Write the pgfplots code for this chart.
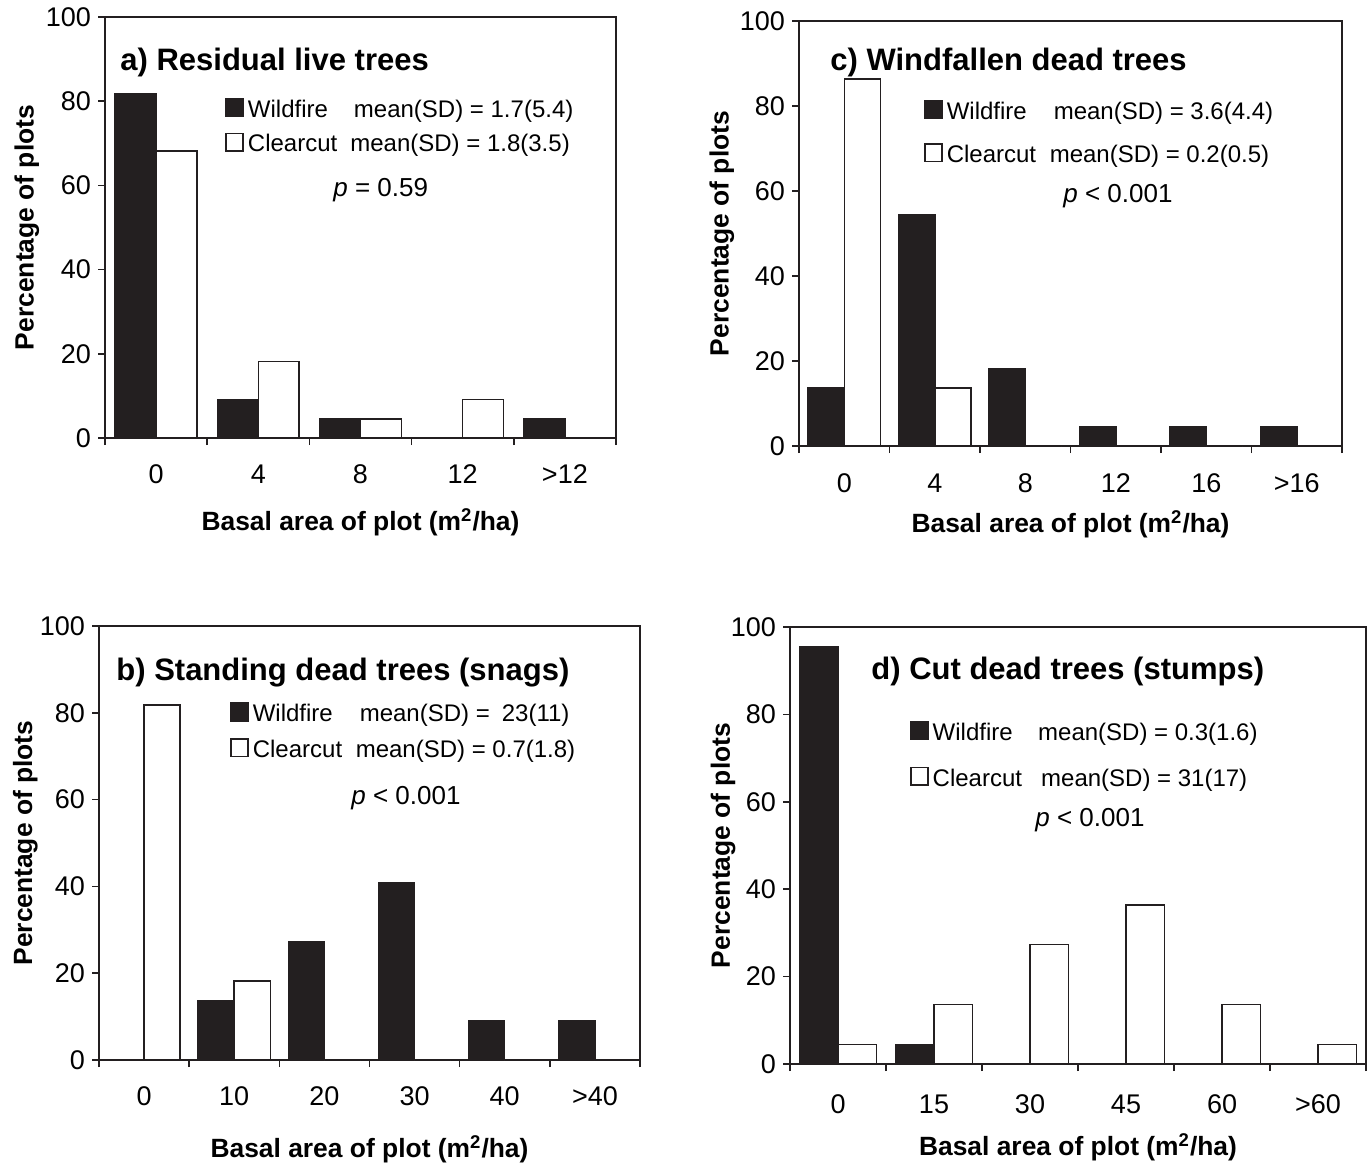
\documentclass[border=0pt]{standalone}
\usepackage{fontspec}
\setmainfont{Liberation Sans}
\usepackage{pgfplots}
\pgfplotsset{compat=1.18}

\definecolor{ink}{RGB}{35,31,32}

\pgfplotsset{
  panel/.style={
    scale only axis,
    ybar, bar width=0.4,
    ymin=0, ymax=100, ytick={0,20,...,100},
    axis line style={ink, line width=0.8pt},
    tick pos=left, tick align=outside,
    major tick length=3.5pt, minor tick length=3.5pt,
    every tick/.style={ink, line width=0.8pt},
    major x tick style={draw=none},
    tick label style={font=\fontsize{13.5}{16}\selectfont},
    /pgf/number format/assume math mode=true,
    xlabel={Basal area of plot (m\textsuperscript{2}/ha)},
    ylabel={Percentage of plots},
    label style={font=\fontsize{13.2}{16}\selectfont\bfseries},
    legend style={draw=none, fill=none, inner sep=0pt, anchor=west,
      font=\fontsize{12}{14}\selectfont},
    legend cell align=left,
  },
  wild/.style={fill=ink, draw=ink, line width=0.75pt, bar shift=-0.2,
    legend image code/.code={\draw[fill=ink, draw=ink, line width=0.75pt] (0pt,-3.2pt) rectangle (8.5pt,5.6pt);}},
  clear/.style={fill=white, draw=ink, line width=0.75pt, bar shift=0.2,
    legend image code/.code={\draw[fill=white, draw=ink, line width=0.75pt] (0pt,-3.2pt) rectangle (8.5pt,5.6pt);}},
}
\tikzset{
  ptext/.style={anchor=base west, inner sep=0pt, font=\fontsize{13}{15}\selectfont},
  ttext/.style={anchor=base west, inner sep=0pt, font=\fontsize{15.5}{18}\selectfont\bfseries},
}

\begin{document}
\begin{tikzpicture}
\path[use as bounding box] (0,0) rectangle (684.5pt,-581.5pt);

% a) residual live trees
\begin{axis}[panel, at={(52.5pt,-8.5pt)}, anchor=north west,
  width=255.5pt, height=210.5pt,
  xmin=-0.5, xmax=4.5, xtick={0,...,4}, xticklabels={0,4,8,12,>12},
  minor xtick={-0.5,0.5,...,4.5},
  xticklabel style={yshift=-6.5pt},
  xlabel style={at={(axis description cs:0.5,-0.2)}, anchor=center},
  ylabel style={at={(axis description cs:-0.153,0.5)}, anchor=center},
  legend style={at={(0.235,0.738)}, row sep=3.3pt}]
\addplot[wild] coordinates {(0,81.8) (1,9.1) (2,4.5) (3,0) (4,4.5)};
\addlegendentry{\makebox[53pt][l]{Wildfire}mean(SD) = 1.7(5.4)}
\addplot[clear] coordinates {(0,68.2) (1,18.2) (2,4.5) (3,9.1) (4,0)};
\addlegendentry{\makebox[51.2pt][l]{Clearcut}mean(SD) = 1.8(3.5)}
\end{axis}

% c) windfallen dead trees
\begin{axis}[panel, at={(399.5pt,-10.5pt)}, anchor=north west,
  width=271.5pt, height=212.5pt,
  xmin=-0.5, xmax=5.5, xtick={0,...,5}, xticklabels={0,4,8,12,16,>16},
  minor xtick={-0.5,0.5,...,5.5},
  xticklabel style={yshift=-7pt},
  xlabel style={at={(axis description cs:0.5,-0.185)}, anchor=center},
  ylabel style={at={(axis description cs:-0.142,0.5)}, anchor=center},
  legend style={at={(0.230,0.735)}, row sep=7.2pt}]
\addplot[wild] coordinates {(0,13.6) (1,54.5) (2,18.2) (3,4.5) (4,4.5) (5,4.5)};
\addlegendentry{\makebox[53.5pt][l]{Wildfire}mean(SD) = 3.6(4.4)}
\addplot[clear] coordinates {(0,86.4) (1,13.6) (2,0) (3,0) (4,0) (5,0)};
\addlegendentry{\makebox[51.5pt][l]{Clearcut}mean(SD) = 0.2(0.5)}
\end{axis}

% b) standing dead trees
\begin{axis}[panel, at={(49.5pt,-313pt)}, anchor=north west,
  width=270.5pt, height=217pt,
  xmin=-0.5, xmax=5.5, xtick={0,...,5}, xticklabels={0,10,20,30,40,>40},
  minor xtick={-0.5,0.5,...,5.5},
  xticklabel style={yshift=-6.5pt},
  xlabel style={at={(axis description cs:0.5,-0.205)}, anchor=center},
  ylabel style={at={(axis description cs:-0.136,0.5)}, anchor=center},
  legend style={at={(0.242,0.755)}, row sep=3.7pt}]
\addplot[wild] coordinates {(0,0) (1,13.6) (2,27.3) (3,40.9) (4,9.1) (5,9.1)};
\addlegendentry{\makebox[53.5pt][l]{Wildfire}mean(SD) =\enspace23(11)}
\addplot[clear] coordinates {(0,81.8) (1,18.2) (2,0) (3,0) (4,0) (5,0)};
\addlegendentry{\makebox[51.5pt][l]{Clearcut}mean(SD) = 0.7(1.8)}
\end{axis}

% d) cut dead trees
\begin{axis}[panel, at={(395pt,-313.5pt)}, anchor=north west,
  width=288pt, height=218.5pt,
  xmin=-0.5, xmax=5.5, xtick={0,...,5}, xticklabels={0,15,30,45,60,>60},
  minor xtick={-0.5,0.5,...,5.5},
  xticklabel style={yshift=-8.5pt},
  xlabel style={at={(axis description cs:0.5,-0.19)}, anchor=center},
  ylabel style={at={(axis description cs:-0.116,0.5)}, anchor=center},
  legend style={at={(0.208,0.705)}, row sep=8.7pt}]
\addplot[wild] coordinates {(0,95.5) (1,4.5) (2,0) (3,0) (4,0) (5,0)};
\addlegendentry{\makebox[52.75pt][l]{Wildfire}mean(SD) = 0.3(1.6)}
\addplot[clear] coordinates {(0,4.5) (1,13.6) (2,27.3) (3,36.4) (4,13.6) (5,4.5)};
\addlegendentry{\makebox[54.25pt][l]{Clearcut}mean(SD) = 31(17)}
\end{axis}

\begin{scope}[x=0.5pt, y=-0.5pt]
\node[ttext] at (120,70) {a) Residual live trees};
\node[ttext] at (830,70) {c) Windfallen dead trees};
\node[ttext] at (116,680) {b) Standing dead trees (snags)};
\node[ttext] at (871,679) {d) Cut dead trees (stumps)};
\node[ptext] at (333,196) {\textit{p} = 0.59};
\node[ptext] at (1063,202) {\textit{p} < 0.001};
\node[ptext] at (351,804) {\textit{p} < 0.001};
\node[ptext] at (1035,826) {\textit{p} < 0.001};
\end{scope}
\end{tikzpicture}
\end{document}
